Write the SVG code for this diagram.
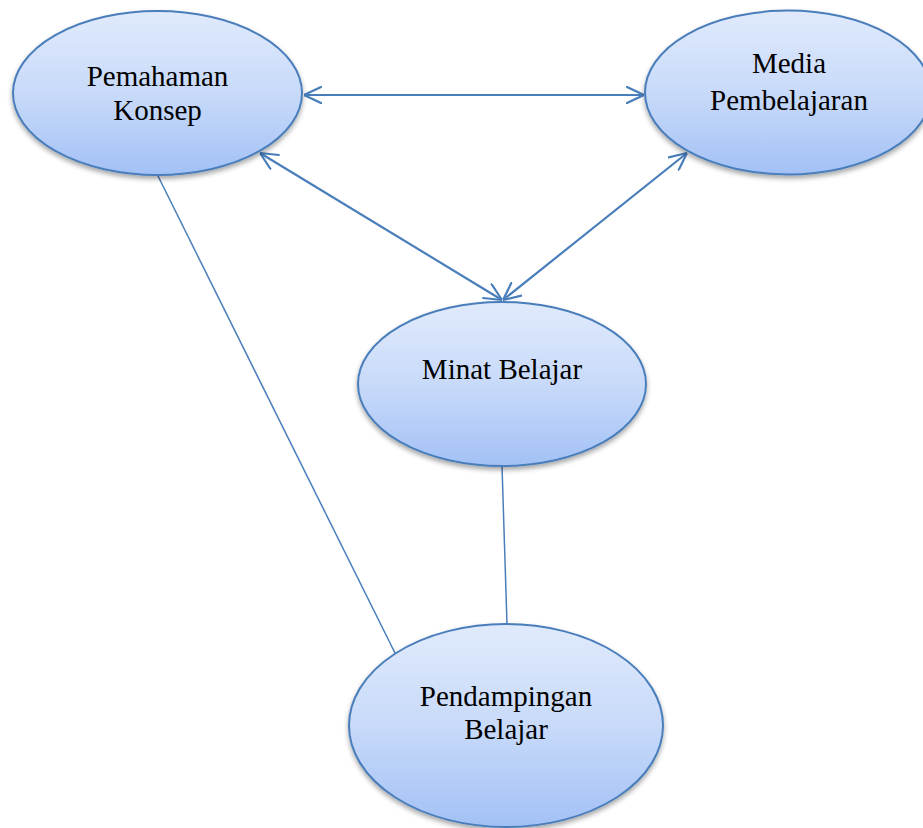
<svg xmlns="http://www.w3.org/2000/svg" width="923" height="828" viewBox="0 0 923 828">
<style>
.node ellipse{fill:url(#g);stroke:#4a7ebb;stroke-width:2;filter:url(#sh)}
.node text{font-family:"Liberation Serif","Times New Roman",serif;font-size:29px;fill:#000;text-anchor:middle}
.arr{stroke:#4a7ebb;stroke-width:2.2;fill:none}
.ln{stroke:#4a7ebb;stroke-width:1.5;fill:none}
</style>
<defs>
<linearGradient id="g" x1="0" y1="0" x2="0" y2="1">
<stop offset="0" stop-color="#e0eafc"/>
<stop offset="0.5" stop-color="#c8daf9"/>
<stop offset="1" stop-color="#a3c1f6"/>
</linearGradient>
<filter id="sh" x="-10%" y="-10%" width="120%" height="130%">
<feDropShadow dx="0" dy="3" stdDeviation="2.5" flood-color="#000" flood-opacity="0.35"/>
</filter>
<marker id="a" viewBox="0 0 10 10" refX="10" refY="5" markerWidth="18" markerHeight="18" markerUnits="userSpaceOnUse" orient="auto-start-reverse">
<path d="M0.5,0.5 L10,5 L0.5,9.5" fill="none" stroke="#4a7ebb" stroke-width="1.2" stroke-linecap="round" stroke-linejoin="round"/>
</marker>
</defs>
<g id="connectors">
<line class="arr" x1="304" y1="95" x2="644" y2="95" marker-start="url(#a)" marker-end="url(#a)"/>
<line class="arr" x1="260" y1="153" x2="502" y2="300" marker-start="url(#a)" marker-end="url(#a)"/>
<line class="arr" x1="687" y1="153" x2="503" y2="300" marker-start="url(#a)" marker-end="url(#a)"/>
<line class="ln" x1="158" y1="176" x2="395" y2="653"/>
<line class="ln" x1="502" y1="466" x2="507" y2="624"/>
</g>
<g id="pemahaman" class="node">
<ellipse cx="157.5" cy="93" rx="144.5" ry="82"/>
<text x="157.5" y="86">Pemahaman</text>
<text x="157.5" y="120">Konsep</text>
</g>
<g id="media" class="node">
<ellipse cx="788" cy="92.5" rx="143" ry="82"/>
<text x="789" y="73">Media</text>
<text x="789" y="110">Pembelajaran</text>
</g>
<g id="minat" class="node">
<ellipse cx="502" cy="384" rx="144" ry="82"/>
<text x="502" y="379">Minat Belajar</text>
</g>
<g id="pendampingan" class="node">
<ellipse cx="506" cy="725.5" rx="157" ry="101.5"/>
<text x="506" y="706">Pendampingan</text>
<text x="506" y="739">Belajar</text>
</g>
</svg>
